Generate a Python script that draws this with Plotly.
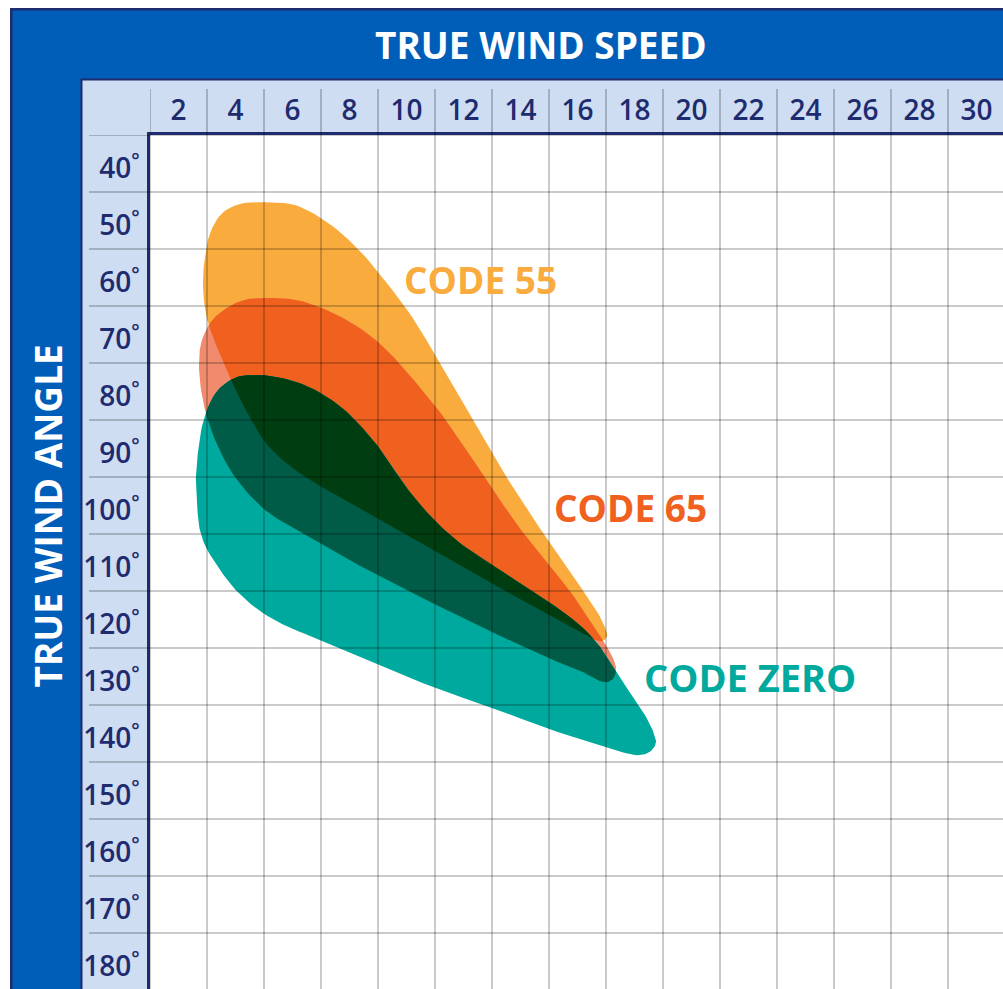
import plotly.graph_objects as go

# ---------------- data ----------------
speed_ticks = [2, 4, 6, 8, 10, 12, 14, 16, 18, 20, 22, 24, 26, 28, 30]
angle_ticks = [40, 50, 60, 70, 80, 90, 100, 110, 120, 130, 140, 150, 160, 170, 180]

# outline of the CODE 55 envelope: true wind speed (kn), true wind angle (deg)
code55_speed = [5.04, 6.09, 7.25, 8.30, 9.25, 10.19, 11.11, 12.02, 12.93, 13.98, 14.79, 15.56,
                16.26, 16.72, 16.96, 17.04, 16.86, 16.44, 16.09, 14.68, 13.04, 11.18, 9.07,
                7.67, 6.61, 5.74, 5.04, 4.51, 4.09, 3.74, 3.39, 3.04, 2.89, 2.86, 2.93, 3.11,
                3.53, 4.16]
code55_angle = [46.8, 47.3, 50.4, 55.0, 60.6, 66.9, 74.5, 82.4, 90.3, 98.7, 104.8, 110.4,
                115.4, 118.9, 121.3, 122.9, 123.8, 123.2, 122.2, 118.3, 113.8, 108.5, 102.5,
                98.5, 95.5, 92.4, 88.9, 84.6, 80.6, 76.8, 72.7, 68.0, 63.9, 59.9, 56.4, 52.2,
                48.7, 47.1]

# outline of the CODE 65 envelope
code65_speed = [5.04, 6.09, 7.04, 8.09, 9.04, 9.77, 10.54, 11.35, 12.05, 12.68, 13.35, 14.05,
                14.86, 15.67, 16.33, 16.82, 17.18, 17.35, 17.25, 16.96, 16.09, 15.04, 13.00,
                11.07, 9.07, 7.67, 6.09, 5.04, 3.98, 3.39, 3.00, 2.79, 2.72, 2.82, 3.18,
                3.74, 4.33]
code65_angle = [63.6, 63.9, 65.4, 68.0, 71.5, 75.2, 79.7, 84.8, 89.9, 94.6, 99.6, 104.5,
                109.6, 114.6, 119.4, 123.1, 126.1, 128.5, 130.4, 131.0, 129.0, 126.9, 122.2,
                117.5, 112.4, 108.7, 104.1, 100.8, 95.0, 89.7, 84.5, 79.7, 75.0, 71.0, 67.5,
                65.2, 63.9]

# outline of the CODE ZERO envelope
codezero_speed = [3.98, 4.68, 5.49, 6.44, 7.25, 7.95, 8.54, 9.07, 9.70, 10.40, 11.18, 12.05,
                  13.04, 14.23, 15.39, 16.26, 16.79, 17.21, 17.56, 17.95, 18.37, 18.65, 18.75,
                  18.54, 18.12, 17.04, 15.00, 13.00, 11.00, 9.00, 7.00, 5.84, 5.00, 4.33,
                  3.88, 3.39, 2.96, 2.75, 2.65, 2.61, 2.68, 2.82, 3.04, 3.39]
codezero_angle = [77.6, 77.1, 77.5, 78.9, 81.1, 83.8, 86.9, 90.1, 94.8, 99.4, 103.6, 107.3,
                  110.6, 114.5, 118.3, 121.8, 124.8, 128.0, 130.8, 133.6, 136.8, 139.6, 141.7,
                  143.2, 143.8, 142.5, 139.2, 135.5, 132.0, 127.8, 123.6, 121.3, 119.0, 116.4,
                  114.1, 110.8, 107.3, 104.3, 99.9, 95.5, 90.8, 86.2, 82.7, 79.7]

sail_names = ["CODE 55", "CODE 65", "CODE ZERO"]

# ---------------- styles ----------------
NAVY = "#1E2B6F"
BLUE = "#005EB8"
BAND = "#CEDDF1"
ORANGE = "#F9AC3D"
SALMON = "#F28B6D"
RED = "#F0601E"
TEAL = "#00A99D"
DARK1 = "#005C47"
DARK2 = "#003D10"
GRID = "rgba(0,0,0,0.28)"
FONT = "Open Sans"

W, H = 1003, 989
ML, MT = 150, 135
PX_PER_KN = 28.5
PX_PER_DEG = 5.7
x_range = [1, 1 + (W - ML) / PX_PER_KN]
y_range = [35 + (H - MT) / PX_PER_DEG, 35]


# ---------------- outline smoothing (centripetal Catmull-Rom, closed) ----------------
def smooth_closed(pts, n=8):
    P = [(x * PX_PER_KN, y * PX_PER_DEG) for x, y in pts]
    N = len(P)
    out = []

    def knot(t, a, b):
        d = ((b[0] - a[0]) ** 2 + (b[1] - a[1]) ** 2) ** 0.5
        return t + max(d, 1e-9) ** 0.5

    def lerp(a, b, ta, tb, t):
        wa = (tb - t) / (tb - ta)
        wb = (t - ta) / (tb - ta)
        return (wa * a[0] + wb * b[0], wa * a[1] + wb * b[1])

    for i in range(N):
        p0, p1, p2, p3 = P[(i - 1) % N], P[i], P[(i + 1) % N], P[(i + 2) % N]
        t0 = 0.0
        t1 = knot(t0, p0, p1)
        t2 = knot(t1, p1, p2)
        t3 = knot(t2, p2, p3)
        for k in range(n):
            t = t1 + (t2 - t1) * k / n
            a1 = lerp(p0, p1, t0, t1, t)
            a2 = lerp(p1, p2, t1, t2, t)
            a3 = lerp(p2, p3, t2, t3, t)
            b1 = lerp(a1, a2, t0, t2, t)
            b2 = lerp(a2, a3, t1, t3, t)
            c = lerp(b1, b2, t1, t2, t)
            out.append((c[0] / PX_PER_KN, c[1] / PX_PER_DEG))
    return out


# ---------------- polygon intersection (Greiner-Hormann) ----------------
def _cross(ax, ay, bx, by):
    return ax * by - ay * bx


def _seg(a, b, c, d):
    rx, ry = b[0] - a[0], b[1] - a[1]
    sx, sy = d[0] - c[0], d[1] - c[1]
    den = _cross(rx, ry, sx, sy)
    if abs(den) < 1e-14:
        return None
    qx, qy = c[0] - a[0], c[1] - a[1]
    t = _cross(qx, qy, sx, sy) / den
    u = _cross(qx, qy, rx, ry) / den
    if 0 < t < 1 and 0 < u < 1:
        return t, u, (a[0] + t * rx, a[1] + t * ry)
    return None


def _inside(pt, poly):
    x, y = pt
    c = False
    n = len(poly)
    for i in range(n):
        x1, y1 = poly[i]
        x2, y2 = poly[(i + 1) % n]
        if (y1 > y) != (y2 > y):
            xi = x1 + (y - y1) * (x2 - x1) / (y2 - y1)
            if xi > x:
                c = not c
    return c


def _bbox(a, b):
    return (min(a[0], b[0]), max(a[0], b[0]), min(a[1], b[1]), max(a[1], b[1]))


def intersect(P, Q):
    n, m = len(P), len(Q)
    ps = [[] for _ in range(n)]
    qs = [[] for _ in range(m)]
    qb = [_bbox(Q[j], Q[(j + 1) % m]) for j in range(m)]
    for i in range(n):
        a0, a1 = P[i], P[(i + 1) % n]
        pb = _bbox(a0, a1)
        for j in range(m):
            b = qb[j]
            if b[0] > pb[1] or b[1] < pb[0] or b[2] > pb[3] or b[3] < pb[2]:
                continue
            r = _seg(a0, a1, Q[j], Q[(j + 1) % m])
            if r:
                t, u, pt = r
                va = {"pt": pt, "inter": True, "al": t, "vis": False}
                vb = {"pt": pt, "inter": True, "al": u, "vis": False}
                va["nb"] = vb
                vb["nb"] = va
                ps[i].append(va)
                qs[j].append(vb)
    if not any(ps):
        if _inside(P[0], Q):
            return [list(P)]
        if _inside(Q[0], P):
            return [list(Q)]
        return []

    def weave(poly, ins):
        L = []
        for k, pt in enumerate(poly):
            L.append({"pt": pt, "inter": False, "vis": False})
            L.extend(sorted(ins[k], key=lambda v: v["al"]))
        for k, v in enumerate(L):
            v["L"] = L
            v["i"] = k
        return L

    SL = weave(P, ps)
    CL = weave(Q, qs)
    for L, other in ((SL, Q), (CL, P)):
        inside = _inside(L[0]["pt"], other)
        for v in L:
            if v["inter"]:
                v["entry"] = not inside
                inside = not inside
    out = []
    for s in SL:
        if not s["inter"] or s["vis"]:
            continue
        poly = [s["pt"]]
        cur = s
        while True:
            cur["vis"] = True
            cur["nb"]["vis"] = True
            L = cur["L"]
            k = cur["i"]
            step = 1 if cur["entry"] else -1
            while True:
                k = (k + step) % len(L)
                v = L[k]
                poly.append(v["pt"])
                if v["inter"]:
                    break
            cur = v["nb"]
            if cur["vis"]:
                break
        if len(poly) > 1 and poly[-1] == poly[0]:
            poly = poly[:-1]
        if len(poly) >= 3:
            out.append(poly)
    return out


def to_xy(polys):
    xs, ys = [], []
    for p in polys:
        if xs:
            xs.append(None)
            ys.append(None)
        xs += [q[0] for q in p] + [p[0][0]]
        ys += [q[1] for q in p] + [p[0][1]]
    return xs, ys


p55 = smooth_closed(list(zip(code55_speed, code55_angle)))
p65 = smooth_closed(list(zip(code65_speed, code65_angle)))
pz = smooth_closed(list(zip(codezero_speed, codezero_angle)))

r65_55 = intersect(p65, p55)
rz_65 = intersect(pz, p65)
rz_65_55 = []
for poly in rz_65:
    rz_65_55 += intersect(poly, p55)

layers = [
    ([p55], ORANGE, sail_names[0]),
    ([p65], SALMON, sail_names[1]),
    (r65_55, RED, sail_names[1]),
    ([pz], TEAL, sail_names[2]),
    (rz_65, DARK1, sail_names[2]),
    (rz_65_55, DARK2, sail_names[2]),
]

fig = go.Figure()
for polys, col, name in layers:
    xs, ys = to_xy(polys)
    fig.add_trace(go.Scatter(
        x=xs, y=ys, mode="lines", fill="toself", fillcolor=col,
        line=dict(width=0, color=col), hoverinfo="skip", showlegend=False, name=name,
    ))


# ---------------- frame ----------------
def px_x(v):
    return (v - ML) / (W - ML)


def px_y(v):
    return 1 - (v - MT) / (H - MT)


shapes = []


def rect(x0, y0, col):
    shapes.append(dict(type="rect", xref="paper", yref="paper", layer="below",
                       x0=px_x(x0), x1=px_x(W + 10), y0=px_y(H + 10), y1=px_y(y0),
                       fillcolor=col, line=dict(width=0)))


rect(10, 8, NAVY)
rect(12.5, 10.5, BLUE)
rect(80.5, 78.5, NAVY)
rect(82.5, 80.5, BAND)
shapes.append(dict(type="rect", xref="paper", yref="paper", layer="below",
                   x0=0, x1=1.02, y0=-0.02, y1=1, fillcolor="white", line=dict(width=0)))

# grid lines (drawn above the envelopes, continuing into the label bands)
for v in range(1, 31, 2):
    shapes.append(dict(type="line", xref="x", yref="paper", layer="above",
                       x0=v, x1=v, y0=0, y1=px_y(89),
                       line=dict(color=GRID, width=1.5)))
for v in range(35, 185, 10):
    shapes.append(dict(type="line", xref="paper", yref="y", layer="above",
                       x0=px_x(89), x1=1, y0=v, y1=v,
                       line=dict(color=GRID, width=1.5)))

annotations = [
    dict(text="TRUE WIND SPEED", xref="paper", yref="paper", x=px_x(541), y=px_y(44),
         xanchor="center", yanchor="middle", showarrow=False,
         font=dict(family=FONT, size=37, color="white", weight=700)),
    dict(text="TRUE WIND ANGLE", xref="paper", yref="paper", x=px_x(47), y=px_y(516.5),
         xanchor="center", yanchor="middle", showarrow=False, textangle=-90,
         font=dict(family=FONT, size=37, color="white", weight=700)),
    dict(text=sail_names[0], xref="x", yref="y", x=12.6, y=60.3, showarrow=False,
         xanchor="center", yanchor="middle",
         font=dict(family=FONT, size=37, color=ORANGE, weight=700)),
    dict(text=sail_names[1], xref="x", yref="y", x=17.86, y=100.4, showarrow=False,
         xanchor="center", yanchor="middle",
         font=dict(family=FONT, size=37, color=RED, weight=700)),
    dict(text=sail_names[2], xref="x", yref="y", x=22.05, y=130.0, showarrow=False,
         xanchor="center", yanchor="middle",
         font=dict(family=FONT, size=38, color=TEAL, weight=700)),
]

fig.update_layout(
    width=W, height=H,
    margin=dict(l=ML, r=0, t=MT, b=0, pad=0),
    paper_bgcolor="white", plot_bgcolor="white",
    shapes=shapes, annotations=annotations, showlegend=False,
    xaxis=dict(range=x_range, side="top", tickvals=speed_ticks,
               ticktext=[str(s) for s in speed_ticks],
               showgrid=False, zeroline=False, ticks="", ticklabelstandoff=1,
               showline=True, linecolor=NAVY, linewidth=2.5,
               tickfont=dict(family=FONT, size=28, color=NAVY, weight=600), fixedrange=True),
    yaxis=dict(range=y_range, tickvals=angle_ticks,
               ticktext=[f"{a}<sup>°</sup>" for a in angle_ticks],
               showgrid=False, zeroline=False, ticks="", ticklabelstandoff=2,
               ticklabelshift=-5,
               showline=True, linecolor=NAVY, linewidth=2.5,
               tickfont=dict(family=FONT, size=28, color=NAVY, weight=600), fixedrange=True),
)

fig.write_html("out.html", config={"displayModeBar": False},
               post_script="document.body.style.margin='0px';")
